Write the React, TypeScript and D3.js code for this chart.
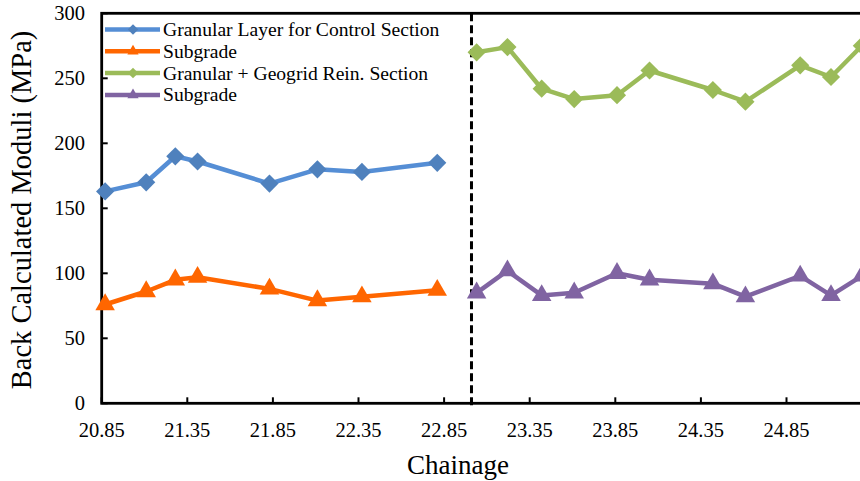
import React from "react";
import * as d3 from "d3";

const controlX = [20.87, 21.11, 21.28, 21.41, 21.83, 22.11, 22.37, 22.81];
const controlGranular = [163, 170, 190, 186, 169, 180, 178, 185];
const controlSubgrade = [76, 86, 95, 97, 88, 79, 82, 87];

const reinX = [23.04, 23.22, 23.42, 23.61, 23.86, 24.05, 24.42, 24.61, 24.93, 25.11, 25.29];
const reinGranular = [270, 274, 242, 234, 237, 256, 241, 232, 260, 251, 275];
const reinSubgrade = [85, 102, 83, 85, 100, 95, 92, 82, 98, 83, 98];

const xTicks = [20.85, 21.35, 21.85, 22.35, 22.85, 23.35, 23.85, 24.35, 24.85];
const yTicks = [0, 50, 100, 150, 200, 250, 300];
const dividerX = 23.01;

const seriesNames = [
  "Granular Layer for Control Section",
  "Subgrade",
  "Granular + Geogrid Rein. Section",
  "Subgrade",
];

const W = 860;
const H = 481;
const left = 101.7;
const top = 13.3;
const bottom = 403.3;
const right = 872.1;
const font = "Liberation Serif";

export default function App() {
  const x = d3.scaleLinear().domain([20.85, 25.35]).range([left, right]);
  const y = d3.scaleLinear().domain([0, 300]).range([bottom, top]);

  const series = [
    { xs: controlX, ys: controlGranular, line: "#558ED5", fill: "#4F81BD", shape: "diamond" },
    { xs: controlX, ys: controlSubgrade, line: "#FF6600", fill: "#FF6600", shape: "triangle" },
    { xs: reinX, ys: reinGranular, line: "#9BBB59", fill: "#9BBB59", shape: "diamond" },
    { xs: reinX, ys: reinSubgrade, line: "#8064A2", fill: "#8064A2", shape: "triangle" },
  ];

  const lineGen = d3
    .line<[number, number]>()
    .x((d) => x(d[0]))
    .y((d) => y(d[1]));

  const diamondPath = (s: number) => d3.symbol(d3.symbolSquare, s)() as string;
  const triPath = (s: number) => d3.symbol(d3.symbolTriangle, s)() as string;

  const marker = (shape: string, cx: number, cy: number, fill: string, big: boolean, key: string) => {
    if (shape === "diamond") {
      return (
        <path
          key={key}
          d={diamondPath(big ? 165 : 55)}
          transform={`translate(${cx},${cy}) rotate(45)`}
          fill={fill}
        />
      );
    }
    return (
      <path
        key={key}
        d={triPath(big ? 165 : 55)}
        transform={`translate(${cx},${cy})`}
        fill={fill}
      />
    );
  };

  const legendY = [29.5, 51.3, 73.1, 94.9];

  return (
    <svg
      width={W}
      height={H}
      style={{ position: "absolute", left: 0, top: 0, background: "#fff", fontFamily: font }}
    >
      <rect x={0} y={0} width={W} height={H} fill="#fff" />
      <rect x={left} y={top} width={right - left} height={bottom - top} fill="none" stroke="#000" strokeWidth={2.8} />
      {yTicks.map((t) => (
        <g key={"y" + t}>
          <line x1={left} x2={left + 6} y1={y(t)} y2={y(t)} stroke="#000" strokeWidth={2} />
          <text x={85} y={y(t)} dy="0.35em" textAnchor="end" fontSize={20.5} fill="#000" fontFamily={font}>
            {t}
          </text>
        </g>
      ))}
      {xTicks.map((t) => (
        <g key={"x" + t}>
          <line x1={x(t)} x2={x(t)} y1={bottom} y2={bottom - 6} stroke="#000" strokeWidth={2} />
          <text x={x(t)} y={436.7} textAnchor="middle" fontSize={20.5} fill="#000" fontFamily={font}>
            {t.toFixed(2)}
          </text>
        </g>
      ))}
      <line
        x1={x(dividerX)}
        x2={x(dividerX)}
        y1={top}
        y2={bottom + 3}
        stroke="#000"
        strokeWidth={3}
        strokeDasharray="8,4"
      />
      {series.map((s, i) => {
        const pts = s.xs.map((v, j) => [v, s.ys[j]] as [number, number]);
        return (
          <g key={"s" + i}>
            <path d={lineGen(pts) as string} fill="none" stroke={s.line} strokeWidth={4.5} strokeLinejoin="round" />
            {pts.map((p, j) => marker(s.shape, x(p[0]), y(p[1]), s.fill, true, `m${i}-${j}`))}
          </g>
        );
      })}
      {series.map((s, i) => {
        const ly = legendY[i];
        return (
          <g key={"l" + i}>
            <line x1={105} x2={160} y1={ly} y2={ly} stroke={s.line} strokeWidth={4.5} />
            {marker(s.shape, 133, ly, s.fill, false, `lm${i}`)}
            <text x={163} y={ly} dy="0.33em" fontSize={19.6} fill="#000" fontFamily={font}>
              {seriesNames[i]}
            </text>
          </g>
        );
      })}
      <text x={458} y={474} textAnchor="middle" fontSize={27} fill="#000" fontFamily={font}>
        Chainage
      </text>
      <text
        transform={`translate(31,210) rotate(-90)`}
        textAnchor="middle"
        fontSize={28.5}
        fill="#000"
        fontFamily={font}
      >
        Back Calculated Moduli (MPa)
      </text>
    </svg>
  );
}
